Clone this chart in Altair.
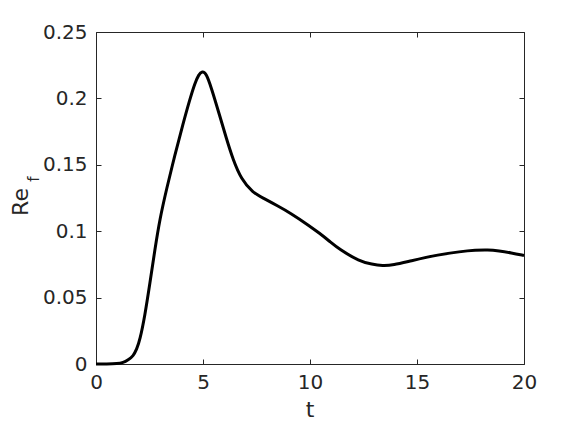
import altair as alt
import pandas as pd

# ---- data ----
t_vals = [0, 0.5, 1.0, 1.27, 1.5, 1.74, 1.9, 2.05, 2.28, 2.52, 2.75, 2.98, 3.30, 3.68,
          4.07, 4.38, 4.62, 4.80, 4.96, 5.15, 5.39, 5.78, 6.09, 6.40, 6.79, 7.33, 7.80,
          8.5, 9.05, 9.98, 10.44, 10.91, 11.38, 12.31, 12.9, 13.39, 13.9, 14.64, 16.04,
          17.0, 17.75, 18.3, 18.83, 19.4, 20]
ref_vals = [0, 0, 0.0002, 0.001, 0.003, 0.006, 0.011, 0.018, 0.036, 0.061, 0.086, 0.109,
            0.132, 0.157, 0.181, 0.199, 0.2115, 0.218, 0.2205, 0.219, 0.208, 0.187, 0.170,
            0.154, 0.139, 0.129, 0.125, 0.119, 0.114, 0.104, 0.0985, 0.0925, 0.0862,
            0.0774, 0.0750, 0.0740, 0.0745, 0.0774, 0.0825, 0.0846, 0.0857, 0.0860, 0.0852,
            0.0837, 0.0817]
x_ticks = [0, 5, 10, 15, 20]
y_ticks = [0, 0.05, 0.1, 0.15, 0.2, 0.25]
x_title = ["t"]
y_title_main = ["Re"]
y_title_sub = ["f"]

df = pd.DataFrame({"t": t_vals, "Re_f": ref_vals})

AX = "#262626"
FONT = "DejaVu Sans"
W, H = 428, 332

xscale = alt.Scale(domain=[0, 20], nice=False, zero=False)
yscale = alt.Scale(domain=[0, 0.25], nice=False)

common = dict(domain=False, grid=False, tickSize=5, offset=-5, tickColor=AX,
              tickWidth=1, labelColor=AX, labelFont=FONT, labelFontSize=20,
              labelFlush=False, labelOverlap=False, title=None)

line = alt.Chart(df).mark_line(color="black", strokeWidth=3, interpolate="basis").encode(
    x=alt.X("t:Q", scale=xscale,
            axis=alt.Axis(orient="bottom", values=x_ticks, labelPadding=8, **common)),
    y=alt.Y("Re_f:Q", scale=yscale,
            axis=alt.Axis(orient="left", values=y_ticks, format="~g", labelPadding=9, **common)),
)

frame = alt.Chart(df).mark_line(opacity=0).encode(
    x=alt.X("t:Q", scale=xscale,
            axis=alt.Axis(orient="top", values=x_ticks, labels=False, **common)),
    y=alt.Y("Re_f:Q", scale=yscale,
            axis=alt.Axis(orient="right", values=y_ticks, labels=False, **common)),
)

xt = alt.Chart(pd.DataFrame({"label": x_title})).mark_text(
    font=FONT, fontSize=22, color=AX, align="center", baseline="middle"
).encode(x=alt.value(214), y=alt.value(378), text="label:N")

yt = alt.Chart(pd.DataFrame({"label": y_title_main})).mark_text(
    font=FONT, fontSize=22, color=AX, align="center", baseline="middle", angle=270
).encode(x=alt.value(-75), y=alt.value(170), text="label:N")

ys = alt.Chart(pd.DataFrame({"label": y_title_sub})).mark_text(
    font=FONT, fontSize=15, color=AX, align="center", baseline="middle", angle=270
).encode(x=alt.value(-62.5), y=alt.value(147), text="label:N")

chart = alt.layer(line, frame, xt, yt, ys).resolve_axis(
    x="independent", y="independent"
).properties(
    width=W, height=H,
    autosize=alt.AutoSizeParams(type="none"),
    padding={"left": 88, "top": 24, "right": 48, "bottom": 62},
    background="white",
).configure_view(stroke=AX, strokeWidth=1)

chart.save("out.html", embed_options={"renderer": "svg", "actions": False})
